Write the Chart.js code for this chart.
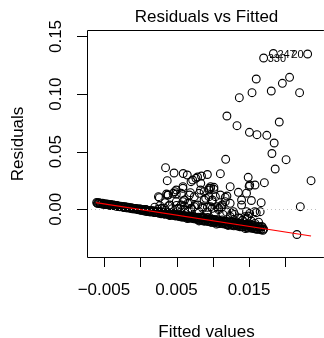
<!DOCTYPE html>
<html>
<head>
<meta charset="utf-8">
<script src="https://cdn.jsdelivr.net/npm/chart.js@4"></script>
<style>
  body { margin: 0; background: #fff; }
  #wrap { width: 324px; height: 338px; }
</style>
</head>
<body>
<div id="wrap"><canvas id="resid"></canvas></div>
<script>
// dense band of observations along the smoother
const bandFitted = [-0.0060,-0.0058,-0.0056,-0.0054,-0.0052,-0.0050,-0.0048,-0.0046,-0.0044,-0.0042,
  -0.0040,-0.0038,-0.0036,-0.0034,-0.0032,-0.0030,-0.0028,-0.0026,-0.0024,-0.0022,
  -0.0020,-0.0018,-0.0016,-0.0014,-0.0012,-0.0010,-0.0008,-0.0006,-0.0004,-0.0002,
  0.0000,0.0002,0.0004,0.0006,0.0008,0.0010,0.0012,0.0014,0.0016,0.0018,
  0.0020,0.0022,0.0024,0.0026,0.0028,0.0030,0.0032,0.0034,0.0036,0.0038,
  0.0040,0.0042,0.0044,0.0046,0.0048,0.0050,0.0052,0.0054,0.0056,0.0058,
  0.0060,0.0062,0.0064,0.0066,0.0068,0.0070,0.0072,0.0074,0.0076,0.0078,
  0.0080,0.0082,0.0084,0.0086,0.0088,0.0090,0.0092,0.0094,0.0096,0.0098,
  0.0100,0.0102,0.0104,0.0106,0.0108,0.0110,0.0112,0.0114,0.0116,0.0118,
  0.0120,0.0122,0.0124,0.0126,0.0128,0.0130,0.0132,0.0134,0.0136,0.0138,
  0.0140,0.0142,0.0144,0.0146,0.0148,0.0150,0.0152,0.0154,0.0156,0.0158,
  0.0160,0.0162,0.0164,0.0166,0.0168,0.0170];
const bandResid = [0.00591,0.00512,0.00542,0.00483,0.00523,0.00454,0.00414,0.00435,0.00435,0.00346,
  0.00396,0.00317,0.00347,0.00288,0.00328,0.00259,0.00219,0.00240,0.00240,0.00151,
  0.00201,0.00122,0.00152,0.00093,0.00133,0.00064,0.00024,0.00045,0.00045,-0.00045,
  0.00036,-0.00094,-0.00043,-0.00153,-0.00022,-0.00142,-0.00101,-0.00241,-0.00170,-0.00130,
  -0.00159,-0.00289,-0.00238,-0.00348,-0.00217,-0.00337,-0.00296,-0.00436,-0.00365,-0.00325,
  -0.00354,-0.00484,-0.00433,-0.00543,-0.00412,-0.00532,-0.00491,-0.00631,-0.00560,-0.00520,
  -0.00549,-0.00679,-0.00628,-0.00738,-0.00607,-0.00727,-0.00686,-0.00826,-0.00755,-0.00715,
  -0.00684,-0.00924,-0.00793,-0.01003,-0.00732,-0.00942,-0.00831,-0.01071,-0.00940,-0.00840,
  -0.00879,-0.01119,-0.00988,-0.01198,-0.00927,-0.01137,-0.01026,-0.01266,-0.01135,-0.01035,
  -0.01074,-0.01314,-0.01183,-0.01393,-0.01122,-0.01332,-0.01221,-0.01461,-0.01330,-0.01230,
  -0.01269,-0.01509,-0.01378,-0.01588,-0.01317,-0.01527,-0.01416,-0.01656,-0.01525,-0.01425,
  -0.01464,-0.01704,-0.01573,-0.01783,-0.01512,-0.01722];

const band2Fitted = [0.0041,0.0045,0.0049,0.0053,0.0057,0.0061,0.0065,0.0069,0.0073,0.0077,
  0.0081,0.0085,0.0089,0.0093,0.0097,0.0101,0.0105,0.0109,0.0113,0.0117,
  0.0121,0.0125,0.0129,0.0133,0.0137,0.0141,0.0145,0.0149,0.0153,0.0157,
  0.0161,0.0165,0.0169];
const band2Resid = [-0.00544,-0.00353,-0.00552,-0.00411,-0.00670,-0.00559,-0.00798,-0.00657,-0.00616,-0.00845,
  -0.01014,-0.00673,-0.00972,-0.00711,-0.01120,-0.00909,-0.01288,-0.01027,-0.00926,-0.01285,
  -0.01404,-0.01063,-0.01362,-0.01101,-0.01510,-0.01299,-0.01678,-0.01417,-0.01316,-0.01675,
  -0.01714,-0.01533,-0.01722];

const band3Fitted = [-0.0059,-0.0057,-0.0055,-0.0053,-0.0051,-0.0049,-0.0047,-0.0045,-0.0043,-0.0041,
  -0.0039,-0.0037,-0.0035,-0.0033,-0.0031,-0.0029,-0.0027,-0.0025,-0.0023,-0.0021,
  -0.0019,-0.0017,-0.0015,-0.0013,-0.0011,-0.0009,-0.0007,-0.0005,-0.0003,-0.0001,
  0.0001,0.0003,0.0005,0.0007,0.0009,0.0011,0.0013,0.0015,0.0017,0.0019,
  0.0021,0.0023,0.0025,0.0027,0.0029,0.0031,0.0033,0.0035,0.0037,0.0039,
  0.0041,0.0043,0.0045,0.0047,0.0049,0.0051,0.0053,0.0055,0.0057,0.0059,
  0.0061,0.0063,0.0065,0.0067,0.0069,0.0071,0.0073,0.0075,0.0077,0.0079,
  0.0081,0.0083,0.0085,0.0087,0.0089,0.0091,0.0093,0.0095,0.0097,0.0099,
  0.0101,0.0103,0.0105,0.0107,0.0109,0.0111,0.0113,0.0115,0.0117,0.0119,
  0.0121,0.0123,0.0125,0.0127,0.0129,0.0131,0.0133,0.0135,0.0137,0.0139,
  0.0141,0.0143,0.0145,0.0147,0.0149,0.0151,0.0153,0.0155,0.0157,0.0159,
  0.0161,0.0163,0.0165,0.0167,0.0169];
const band3Resid = [0.00521,0.00562,0.00492,0.00513,0.00433,0.00464,0.00464,0.00405,0.00365,0.00416,
  0.00326,0.00367,0.00297,0.00318,0.00238,0.00269,0.00269,0.00210,0.00170,0.00221,
  0.00131,0.00172,0.00102,0.00123,0.00043,0.00074,0.00074,0.00015,-0.00025,0.00026,
  -0.00094,-0.00003,-0.00093,-0.00022,-0.00192,-0.00111,-0.00191,-0.00090,-0.00200,-0.00279,
  -0.00289,-0.00198,-0.00288,-0.00217,-0.00387,-0.00306,-0.00386,-0.00285,-0.00395,-0.00474,
  -0.00484,-0.00393,-0.00483,-0.00412,-0.00582,-0.00501,-0.00581,-0.00480,-0.00590,-0.00669,
  -0.00679,-0.00588,-0.00678,-0.00607,-0.00777,-0.00696,-0.00776,-0.00675,-0.00785,-0.00864,
  -0.00934,-0.00733,-0.00903,-0.00732,-0.01042,-0.00871,-0.01021,-0.00820,-0.00990,-0.01129,
  -0.01129,-0.00928,-0.01098,-0.00927,-0.01237,-0.01066,-0.01216,-0.01015,-0.01185,-0.01324,
  -0.01324,-0.01123,-0.01293,-0.01122,-0.01432,-0.01261,-0.01411,-0.01210,-0.01380,-0.01519,
  -0.01519,-0.01318,-0.01488,-0.01317,-0.01627,-0.01456,-0.01606,-0.01405,-0.01575,-0.01714,
  -0.01714,-0.01513,-0.01683,-0.01512,-0.01822];

// observations just above the band (its ragged upper edge)
const nearFitted = [0.0020,0.0027,0.0033,0.0039,0.0044,0.0050,0.0055,0.0061,0.0066,0.0071,
  0.0076,0.0081,0.0086,0.0092,0.0097,0.0103,0.0108,0.0114,0.0119,0.0124,
  0.0130,0.0136,0.0141,0.0147,0.0153,0.0158,0.0163];
const nearResid = [0.0018,0.0031,0.0010,0.0030,0.0005,0.0034,0.0004,0.0028,-0.0017,0.0003,
  0.0034,-0.0021,0.0009,-0.0022,0.0023,-0.0023,-0.0003,-0.0044,-0.0023,-0.0063,
  -0.0044,-0.0075,-0.0095,-0.0076,-0.0102,-0.0122,-0.0111];

// scattered observations above the band
const outFitted = [0.01700,0.01834,0.02306,0.01598,0.02057,0.01958,0.01365,0.01540,0.01805,0.02195,
  0.01194,0.01915,0.01333,0.01504,0.01608,0.01743,0.01845,0.01814,0.02009,0.01177,
  0.01859,0.01104,0.02353,0.01710,0.01487,0.01581,0.01500,0.00925,0.00844,0.00790,
  0.01239,0.00969,0.00349,0.00466,0.00592,0.00648,0.00372,0.00722,0.00767,0.00700,
  0.01352,0.01464,0.00264,0.00376,0.00476,0.00497,0.00588,0.00678,0.00611,0.00497,
  0.00830,0.00880,0.00969,0.01015,0.00947,0.00902,0.00992,0.01171,0.01239,0.01104,
  0.01396,0.01396,0.01531,0.01666,0.01576,0.01652,0.01487,0.02205,0.02158,0.00745,
  0.00700,0.00611,0.00565,0.00295,0.00251,0.00588,0.00497,0.00565,0.00691,0.00385,
  0.00341,0.00655,0.00745,0.00813,0.00947,0.01015,0.01036,0.01104,0.00790,0.00857,
  0.00925,0.00992,0.01059,0.01127,0.00520,0.00655,0.01508,0.01194,0.01171,0.01284,
  0.01261,0.01464,0.01508,0.01598,0.01441,0.01373,0.01127,0.01082,0.00992,0.00880,
  0.00834,0.00947,0.00251,0.00363,0.00453,0.00588,0.00408,0.00678];
const outResid = [0.13134,0.13524,0.13481,0.11311,0.11458,0.10938,0.09688,0.10122,0.10269,0.10122,
  0.08099,0.07578,0.07257,0.06684,0.06476,0.06424,0.05755,0.04844,0.04306,0.04340,
  0.03498,0.03090,0.02483,0.02309,0.02778,0.02109,0.01997,0.03021,0.02891,0.02804,
  0.01962,0.01962,0.03611,0.03151,0.03108,0.02977,0.02483,0.02543,0.02691,0.02396,
  0.01476,0.01398,0.01007,0.01241,0.01528,0.01675,0.01823,0.01241,0.00807,0.00660,
  0.01675,0.01528,0.01823,0.01910,0.01094,0.00955,0.00807,0.01042,0.00521,0.00226,
  0.00807,0.00373,0.00764,0.00573,-0.00208,-0.00208,-0.00582,0.00226,-0.02188,0.00226,
  0.00087,-0.00061,0.00373,0.00087,0.00000,0.01962,0.01328,0.01389,0.01441,0.01241,
  0.00573,0.00521,0.01094,0.01389,0.01675,0.01736,0.01094,0.01241,0.00373,0.00226,
  0.00174,0.00087,0.00226,0.00373,0.00087,-0.00208,0.02109,0.01155,0.00660,-0.00208,
  -0.00347,-0.00208,-0.00347,-0.00295,-0.00642,-0.00781,0.00226,0.00087,0.00660,0.00807,
  0.02257,0.01823,0.01094,0.01328,0.01389,0.00660,0.00373,0.00521];

// red smoother
const smoothFitted = [-0.0061, 0.02353];
const smoothResid = [0.00573, -0.02318];

// labelled observations: index into outFitted, text, side
const idIndex = [0, 1, 2];
const idText = ['330', '247', '20'];
const idSide = ['right', 'right', 'left'];

const xTicks = [-0.005, 0.000, 0.005, 0.010, 0.015, 0.020];
const xTickLabels = ['\u22120.005', '', '0.005', '', '0.015', ''];
const yTicks = [0.00, 0.05, 0.10, 0.15];
const yTickLabels = ['0.00', '0.05', '0.10', '0.15'];

const FONT = '"Liberation Sans", Arial, Helvetica, sans-serif';

function pts(xs, ys) {
  return xs.map((v, i) => ({ x: v, y: ys[i] }));
}

const rFrame = {
  id: 'rFrame',
  afterDatasetsDraw(chart) {
    const ctx = chart.ctx, a = chart.chartArea;
    const xs = chart.scales.x, ys = chart.scales.y;
    ctx.save();
    // dotted zero line
    const y0 = Math.round(ys.getPixelForValue(0)) + 0.5;
    ctx.strokeStyle = '#bebebe';
    ctx.lineWidth = 1;
    ctx.setLineDash([1, 3]);
    ctx.beginPath();
    ctx.moveTo(a.left, y0);
    ctx.lineTo(a.right, y0);
    ctx.stroke();
    ctx.setLineDash([]);
    // id labels
    ctx.fillStyle = '#000';
    ctx.font = '11px ' + FONT;
    ctx.textBaseline = 'middle';
    idIndex.forEach((k, i) => {
      const px = xs.getPixelForValue(outFitted[k]);
      const py = ys.getPixelForValue(outResid[k]);
      if (idSide[i] == 'right') {
        ctx.textAlign = 'left';
        ctx.fillText(idText[i], px + 4, py + 1);
      } else {
        ctx.textAlign = 'right';
        ctx.fillText(idText[i], px - 4, py + 1);
      }
    });
    ctx.restore();
  },
  afterDraw(chart) {
    const ctx = chart.ctx, a = chart.chartArea;
    const xs = chart.scales.x, ys = chart.scales.y;
    ctx.save();
    ctx.strokeStyle = '#000';
    ctx.lineWidth = 1;
    // box (right side is outside the picture)
    ctx.beginPath();
    ctx.moveTo(a.right + 5, a.top - 0.5);
    ctx.lineTo(a.left + 0.5, a.top - 0.5);
    ctx.lineTo(a.left + 0.5, a.bottom + 0.5);
    ctx.lineTo(a.right + 5, a.bottom + 0.5);
    ctx.stroke();
    // ticks
    ctx.beginPath();
    xTicks.forEach(v => {
      const px = Math.round(xs.getPixelForValue(v)) + 0.5;
      ctx.moveTo(px, a.bottom);
      ctx.lineTo(px, a.bottom + 10);
    });
    yTicks.forEach(v => {
      const py = Math.round(ys.getPixelForValue(v)) + 0.5;
      ctx.moveTo(a.left - 10, py);
      ctx.lineTo(a.left, py);
    });
    ctx.stroke();
    ctx.fillStyle = '#000';
    ctx.font = '17px ' + FONT;
    ctx.textBaseline = 'alphabetic';
    ctx.textAlign = 'center';
    xTicks.forEach((v, i) => {
      if (xTickLabels[i]) ctx.fillText(xTickLabels[i], xs.getPixelForValue(v), 295);
    });
    yTicks.forEach((v, i) => {
      ctx.save();
      ctx.translate(61, ys.getPixelForValue(v));
      ctx.rotate(-Math.PI / 2);
      ctx.fillText(yTickLabels[i], 0, 0);
      ctx.restore();
    });
    // titles
    const cx = (a.left + 326) / 2;
    ctx.fillText('Residuals vs Fitted', cx, 21.5);
    ctx.fillText('Fitted values', cx, 336.5);
    ctx.save();
    ctx.translate(23, (a.top + a.bottom) / 2);
    ctx.rotate(-Math.PI / 2);
    ctx.fillText('Residuals', 0, 0);
    ctx.restore();
    ctx.restore();
  }
};

const ringStyle = {
  pointStyle: 'circle',
  pointRadius: 3.9,
  pointBorderWidth: 1.1,
  pointBorderColor: '#000',
  pointBackgroundColor: 'rgba(0,0,0,0)',
  showLine: false
};

const chart = new Chart(document.getElementById('resid'), {
  type: 'scatter',
  data: {
    datasets: [
      {
        data: pts(smoothFitted, smoothResid),
        showLine: true,
        borderColor: '#ff0000',
        borderWidth: 1.2,
        pointRadius: 0
      },
      Object.assign({ data: pts(outFitted, outResid) }, ringStyle),
      Object.assign({ data: pts(nearFitted, nearResid) }, ringStyle),
      Object.assign({ data: pts(band3Fitted, band3Resid) }, ringStyle),
      Object.assign({ data: pts(band2Fitted, band2Resid) }, ringStyle),
      Object.assign({ data: pts(bandFitted, bandResid) }, ringStyle)
    ]
  },
  options: {
    responsive: true,
    maintainAspectRatio: false,
    devicePixelRatio: 1,
    animation: false,
    events: [],
    layout: { padding: { left: 87, top: 31, right: 0, bottom: 81 } },
    plugins: { legend: { display: false }, tooltip: { enabled: false }, title: { display: false } },
    scales: {
      x: { type: 'linear', display: false, min: -0.00733, max: 0.02461 },
      y: { type: 'linear', display: false, min: -0.04141, max: 0.15477 }
    }
  },
  plugins: [rFrame]
});
</script>
</body>
</html>
